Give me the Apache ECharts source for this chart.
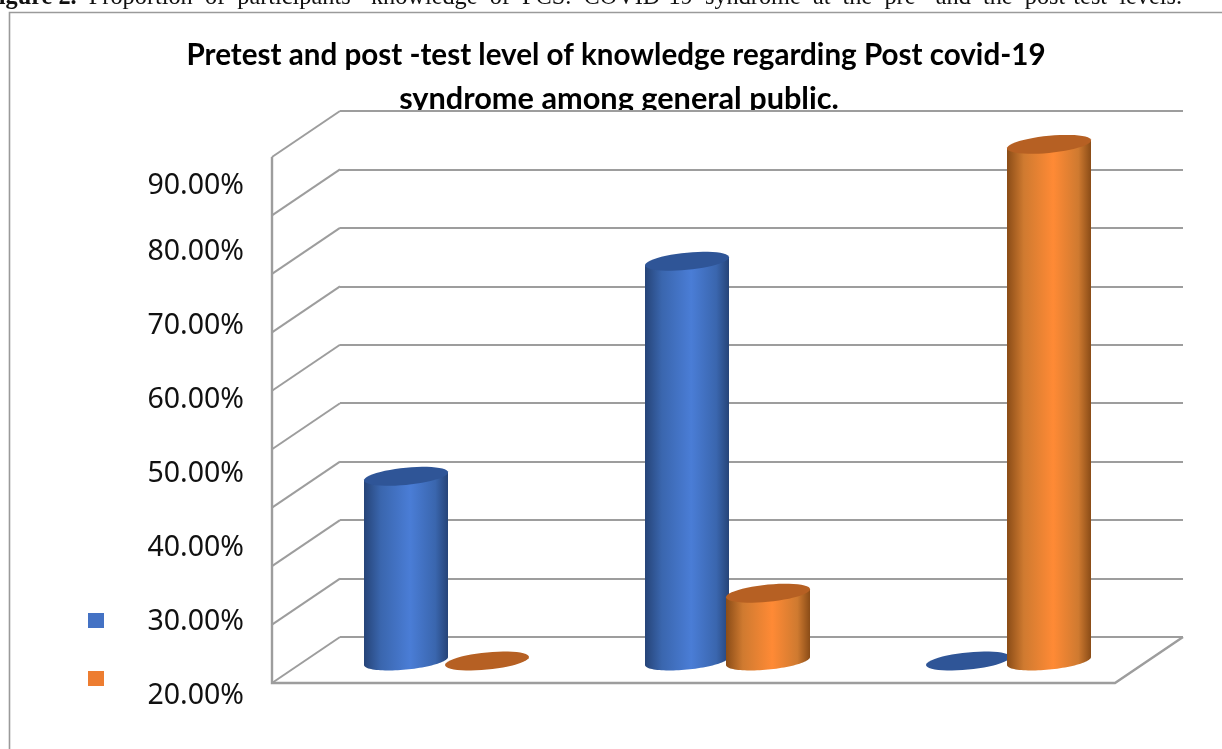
<!DOCTYPE html>
<html>
<head>
<meta charset="utf-8">
<title>Knowledge of Post COVID-19 syndrome</title>
<script src="https://cdn.jsdelivr.net/npm/echarts@6/dist/echarts.min.js"></script>
<style>
  html, body { margin: 0; padding: 0; background: #fff; overflow: hidden; }
  #chart { width: 1222px; height: 749px; }
</style>
</head>
<body>
<div id="chart"></div>
<script>
// Knowledge levels on the horizontal axis (the axis carries no printed names).
const categories = ['Level 1', 'Level 2', 'Level 3'];
const pretest = [31.6, 68.4, 0];
const posttest = [0, 11.6, 88.4];
// Wall and floor rules, one per scale step.
const wallTicks = [0, 10, 20, 30, 40, 50, 60, 70, 80, 90];
// Values printed in the left-hand column.
const printedTicks = [20, 30, 40, 50, 60, 70, 80, 90];

const captionLead = 'Figure 2.';
const captionBody = ' Proportion of participants\u2019 knowledge of PCS. COVID-19 syndrome at the pre- and the post-test levels.';
const titleLines = ['Pretest and post -test level of knowledge regarding Post covid-19', 'syndrome among general public.'];

// Projection of the 3D box: offset from back wall to front edge of the floor.
const DEPTH_X = 68, DEPTH_Y = 46;
const RULE = '#9d9d9d';

// Cylinder drawing parameters.
const RADIUS = 42, MINOR = 8.6, TILT = 4, SERIES_OFFSET = 40.5;

function rimPoint(cx, cy, t) {
  return [cx + RADIUS * Math.cos(t), cy + MINOR * Math.sin(t) - TILT * Math.cos(t)];
}
function arc(cx, cy, from, to) {
  const pts = [];
  for (let i = 0; i <= 48; i++) pts.push(rimPoint(cx, cy, from + (to - from) * i / 48));
  return pts;
}

function cylinderSeries(name, values, side, colors) {
  return {
    name: name,
    type: 'custom',
    xAxisIndex: 0,
    yAxisIndex: 0,
    z: side < 0 ? 5 : 6,
    itemStyle: { color: colors.legend },
    data: values.map((v, i) => [i, v]),
    encode: { x: 0, y: 1 },
    renderItem: function (params, api) {
      const top = api.coord([api.value(0), api.value(1)]);
      const base = api.coord([api.value(0), 0]);
      const cx = top[0] - DEPTH_X / 2 + side * SERIES_OFFSET;
      const topY = top[1] + DEPTH_Y / 2 + 1;
      const baseY = base[1] + DEPTH_Y / 2 + 1;
      const children = [];
      if (baseY - topY > 1) {
        const outline = [rimPoint(cx, topY, Math.PI)]
          .concat(arc(cx, baseY, Math.PI, 0))
          .concat([rimPoint(cx, topY, 0)]);
        children.push({
          type: 'polygon',
          shape: { points: outline },
          style: {
            fill: new echarts.graphic.LinearGradient(0, 0, 1, 0, [
              { offset: 0, color: colors.edge },
              { offset: 0.2, color: colors.shade },
              { offset: 0.55, color: colors.light },
              { offset: 0.85, color: colors.shade },
              { offset: 1, color: colors.edge }
            ])
          }
        });
      }
      children.push({
        type: 'polygon',
        shape: { points: arc(cx, topY, 0, Math.PI * 2) },
        style: { fill: colors.cap }
      });
      return { type: 'group', children: children };
    }
  };
}

const chart = echarts.init(document.getElementById('chart'), null, { renderer: 'canvas' });

chart.setOption({
  animation: false,
  backgroundColor: '#ffffff',
  title: [
    {
      // The caption line is justified, so its word gaps are wider than a single space.
      text: '{b|' + captionLead + '}{r|' + captionBody.replace(/ /g, '  ') + '}',
      left: -21, top: -19, z: 1,
      textStyle: {
        fontWeight: 'normal',
        rich: {
          b: { fontFamily: 'Liberation Serif', fontSize: 24.3, fontWeight: 'bold', color: '#111' },
          r: { fontFamily: 'Liberation Serif', fontSize: 24.3, fontWeight: 'normal', color: '#111' }
        }
      }
    },
    {
      text: titleLines[0], left: 611, top: 35, textAlign: 'center', z: 1,
      textStyle: { fontFamily: 'Lato', fontWeight: 'bold', fontSize: 29.6, color: '#000' }
    },
    {
      text: titleLines[1], left: 614, top: 79, textAlign: 'center', z: 1,
      textStyle: { fontFamily: 'Lato', fontWeight: 'bold', fontSize: 30.7, color: '#000' }
    }
  ],
  legend: {
    left: 88, top: 613,
    padding: 0,
    orient: 'vertical',
    icon: 'rect',
    itemWidth: 16, itemHeight: 15, itemGap: 43,
    selectedMode: false,
    formatter: () => '',
    data: ['Pretest', 'Post-test']
  },
  graphic: [
    {
      // Frame around the figure, open towards the right and bottom.
      type: 'polyline', z: 2, silent: true,
      shape: { points: [[9.5, 760], [9.5, 12.5], [1240, 12.5]] },
      style: { stroke: '#9a9a9a', lineWidth: 1.6, fill: null }
    },
    {
      // The plot area sits over the lower edge of the second title line.
      type: 'rect', z: 2, silent: true,
      shape: { x: 380, y: 110, width: 480, height: 14 },
      style: { fill: '#fff' }
    }
  ],
  grid: [
    { left: 340, width: 843, top: 111, height: 526 },
    { left: 252, width: 10, top: 178, height: 518 }
  ],
  xAxis: [
    { type: 'category', gridIndex: 0, data: categories, axisLine: { show: false }, axisTick: { show: false }, axisLabel: { show: false } },
    { type: 'category', gridIndex: 1, data: [''], axisLine: { show: false }, axisTick: { show: false }, axisLabel: { show: false } }
  ],
  yAxis: [
    {
      type: 'value', gridIndex: 0, min: 0, max: 90, interval: 10, z: 3,
      axisLine: { show: false }, axisTick: { show: false }, axisLabel: { show: false },
      splitLine: { show: true, lineStyle: { color: RULE, width: 2 } }
    },
    {
      type: 'value', gridIndex: 1,
      min: printedTicks[0], max: printedTicks[printedTicks.length - 1], interval: 10,
      axisLine: { show: false }, axisTick: { show: false }, splitLine: { show: false },
      axisLabel: {
        margin: 8,
        fontFamily: 'Noto Sans', fontSize: 28.5, color: '#111',
        // The topmost printed value sits a little lower than the regular step.
        formatter: v => v === 90 ? '{low|' + v.toFixed(2) + '%}' : v.toFixed(2) + '%',
        rich: { low: { fontFamily: 'Noto Sans', fontSize: 28.5, color: '#111', padding: [16, 0, 0, 0] } }
      }
    }
  ],
  series: [
    {
      // Side wall diagonals, the left upright and the floor outline.
      name: 'walls',
      type: 'custom',
      xAxisIndex: 0, yAxisIndex: 0, z: 3, silent: true,
      legendHoverLink: false,
      data: wallTicks.map(v => [0, v]),
      encode: { y: 1 },
      renderItem: function (params, api) {
        const v = api.value(1);
        const y = api.coord([0, v])[1];
        const cs = params.coordSys;
        const left = cs.x, right = cs.x + cs.width;
        const style = { stroke: RULE, lineWidth: 2, fill: null };
        const children = [{
          type: 'polyline',
          shape: { points: [[left, y], [left - DEPTH_X, y + DEPTH_Y]] },
          style: style
        }];
        if (v === 0) {
          const yTop = api.coord([0, wallTicks[wallTicks.length - 1]])[1];
          children.push({
            type: 'polyline',
            shape: { points: [[left - DEPTH_X, yTop + DEPTH_Y], [left - DEPTH_X, y + DEPTH_Y], [right - DEPTH_X, y + DEPTH_Y], [right, y]] },
            style: { stroke: RULE, lineWidth: 2.4, fill: null }
          });
        }
        return { type: 'group', children: children };
      }
    },
    cylinderSeries('Pretest', pretest, -1, { legend: '#4472C4', cap: '#2F5597', edge: '#264478', shade: '#3A66AE', light: '#4A7DD6' }),
    cylinderSeries('Post-test', posttest, 1, { legend: '#ED7D31', cap: '#B66023', edge: '#8A4C17', shade: '#CF7A30', light: '#FF8A35' })
  ]
});
</script>
</body>
</html>
